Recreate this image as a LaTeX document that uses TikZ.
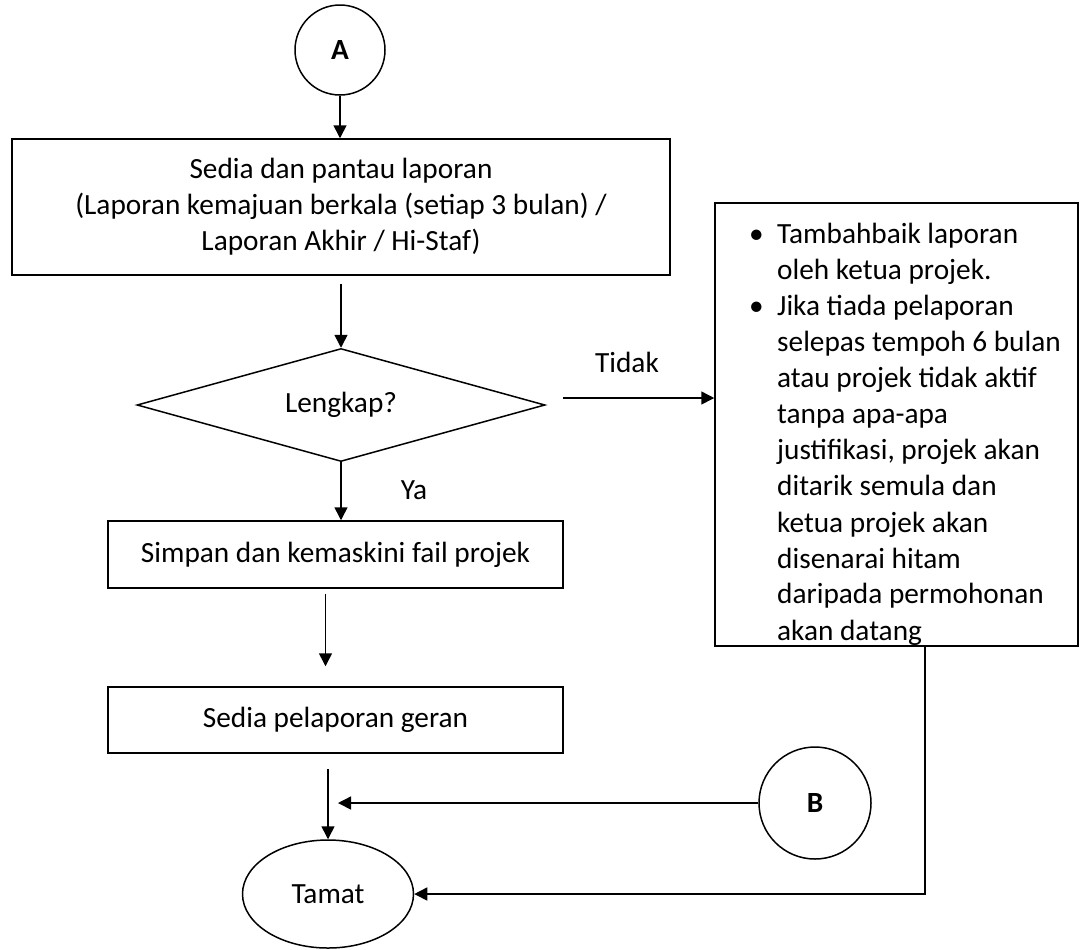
\documentclass[tikz,border=0pt]{standalone}
\usepackage{fontspec}
\setmainfont{Carlito}
\usepackage{tikz}
\usetikzlibrary{arrows.meta,positioning,shapes.geometric}
\tikzset{
	every node/.style={font=\fontsize{14.65pt}{18pt}\selectfont},
	flowline/.style={draw, line width=0.75pt, -{Triangle[length=6.5pt,width=6.5pt]}},
	box/.style={draw, line width=0.75pt, align=center, inner sep=0pt},
	decision/.style={draw, line width=0.75pt, diamond, aspect=3.6, inner sep=0pt},
	connector/.style={
			draw, circle,
			line width = 0.75pt,
			inner sep  = 0pt,
			font       = \fontsize{14.65pt}{18pt}\selectfont\bfseries,
		},
	terminal/.style={draw, line width=0.75pt, ellipse, inner sep=0pt},
}
\newcommand{\bulletline}{\hspace*{8.5pt}\makebox[14pt][l]{\textbullet}}
\newcommand{\indentline}{\hspace*{22.5pt}}

\begin{document}
\begin{tikzpicture}[x=0.5pt,y=-0.5pt]
	\useasboundingbox (0,0) rectangle (1080,949);
	\node[connector, minimum size=45pt] at (340,50) (A) {A};
	\node[box, minimum width=329pt, minimum height=68pt] at (341,207) (lapor) {Sedia dan pantau laporan\\(Laporan kemajuan berkala (setiap 3 bulan) /\\Laporan Akhir / Hi-Staf)};
	\node[decision, minimum width=204pt, minimum height=56.5pt] at (341,405) (lengkap) {Lengkap?};
	\node[box, minimum width=227.5pt, minimum height=33.5pt] at (335.5,554.5) (simpan) {Simpan dan kemaskini fail projek};
	\node[box, minimum width=227.5pt, minimum height=33pt] at (335.5,720) (geran) {Sedia pelaporan geran};
	\node[terminal, minimum width=85.5pt, minimum height=54pt] at (328,894) (tamat) {Tamat};
	\node[connector, minimum size=56pt] at (815,803) (B) {B};
	\node[box, align=left, minimum width=181.5pt, minimum height=221.5pt] at (896.5,424.5) (tambah) {%
		\rule{0pt}{20pt}\bulletline Tambahbaik laporan\\
		\indentline oleh ketua projek.\\
		\bulletline Jika tiada pelaporan\\
		\indentline selepas tempoh 6 bulan\\
		\indentline atau projek tidak aktif\\
		\indentline tanpa apa-apa\\
		\indentline justifikasi, projek akan\\
		\indentline ditarik semula dan\\
		\indentline ketua projek akan\\
		\indentline disenarai hitam\\
		\indentline daripada permohonan\\
		\indentline akan datang};
	\node at (627,362) (tidak) {Tidak};
	\node at (414,490) (ya) {Ya};
	\coordinate (bjoin) at (338,803);
	\coordinate (turn) at (925,894);

	\draw[flowline] (A) -- (A |- lapor.north);
	\draw[flowline, shorten <=4pt] (lapor.south -| lengkap.north) -- (lengkap.north);
	\draw[flowline] (lengkap.south) -- (lengkap.south |- simpan.north);
	\draw[flowline, shorten <=2.5pt, shorten >=10pt] ([xshift=-5pt]simpan.south) -- ([xshift=-5pt]geran.north);
	\draw[flowline, shorten <=7.5pt] (tamat.north |- geran.south) -- (tamat.north);
	\draw[flowline] (B) -- (bjoin);
	\draw[flowline, shorten <=8.5pt] ([yshift=3.5pt]lengkap.east) -- ([yshift=3.5pt]lengkap.east -| tambah.west);
	\draw[flowline] (tambah.south -| turn) -- (turn) -- (tamat.east);
\end{tikzpicture}
\end{document}
